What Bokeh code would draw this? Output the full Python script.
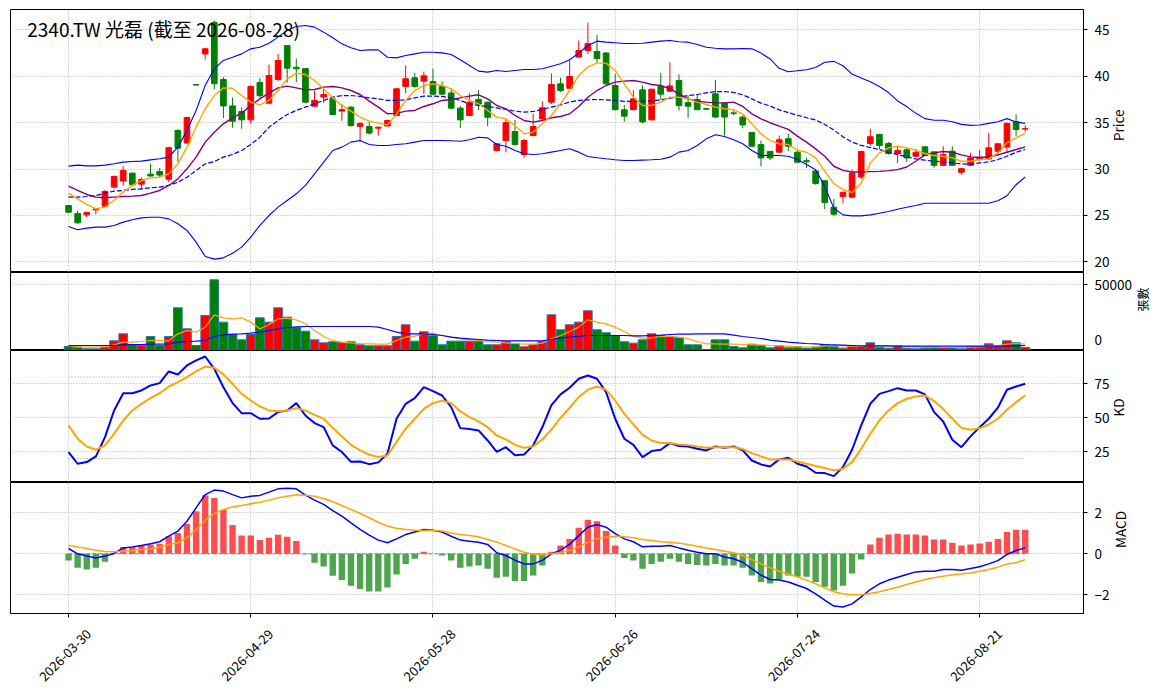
import math
from bokeh.plotting import figure
from bokeh.models import ColumnDataSource, Range1d, FixedTicker, Label, LinearAxis
from bokeh.layouts import column
from bokeh.embed import file_html
from bokeh.resources import INLINE

FONT = "Noto Sans CJK TC"

title = "2340.TW 光磊 (截至 2026-08-28)"
tick_pos = [0, 20, 40, 60, 80, 100]
tick_labels = ["2026-03-30", "2026-04-29", "2026-05-28", "2026-06-26", "2026-07-24", "2026-08-21"]

opens = [26.07, 25.2, 25.06, 25.6, 26.0, 28.05, 28.7, 29.55, 28.37, 29.45,
         29.73, 28.9, 34.15, 32.8, 39.1, 42.4, 45.8, 39.65, 36.8, 36.2,
         35.3, 39.33, 37.1, 39.65, 43.3, 40.97, 40.83, 36.77, 37.75, 37.56,
         36.24, 36.67, 34.6, 34.58, 34.4, 34.63, 35.77, 38.9, 39.83, 39.47,
         39.43, 38.9, 38.2, 36.56, 35.77, 37.5, 37.2, 32.0, 33.07, 34.04,
         31.57, 33.6, 35.4, 37.2, 39.18, 38.7, 42.06, 42.77, 42.66, 42.5,
         39.0, 36.38, 36.4, 38.53, 35.3, 38.9, 38.39, 39.54, 37.16, 37.5,
         36.5, 38.1, 37.1, 36.05, 35.6, 33.94, 32.64, 31.9, 31.82, 33.26,
         31.81, 30.9, 29.79, 28.74, 25.89, 27.04, 26.97, 29.14, 32.75, 33.73,
         32.75, 31.67, 32.07, 31.38, 32.39, 31.85, 30.4, 31.92, 29.65, 30.4,
         31.02, 31.09, 31.92, 32.36, 35.1, 34.3]
highs = [26.1, 25.5, 25.4, 25.8, 27.7, 29.3, 30.3, 29.65, 29.1, 30.55,
         30.1, 32.4, 34.3, 35.6, 39.15, 43.0, 46.0, 39.9, 37.7, 36.65,
         39.0, 39.8, 41.25, 42.4, 43.35, 41.9, 40.9, 38.45, 38.64, 37.7,
         37.0, 36.75, 35.05, 35.05, 34.6, 35.3, 38.7, 41.16, 40.37, 40.5,
         40.8, 39.43, 38.64, 36.8, 38.17, 38.5, 37.25, 32.8, 35.4, 35.3,
         33.25, 35.95, 37.3, 40.3, 39.83, 41.7, 43.85, 45.75, 44.46, 42.6,
         40.26, 36.9, 38.5, 39.0, 38.65, 40.37, 41.5, 40.2, 37.9, 38.0,
         36.55, 39.6, 37.2, 36.3, 35.8, 34.0, 33.07, 31.95, 33.6, 33.8,
         32.1, 31.2, 29.9, 28.8, 26.76, 27.55, 29.93, 31.95, 34.34, 33.8,
         32.9, 32.46, 32.3, 32.18, 32.46, 31.9, 32.46, 32.46, 30.1, 31.74,
         32.03, 33.9, 32.8, 35.0, 35.9, 34.7]
lows = [25.3, 24.1, 24.8, 25.1, 25.9, 27.9, 28.2, 28.2, 27.75, 29.2,
        29.1, 28.6, 30.75, 32.7, 39.0, 41.8, 38.6, 35.5, 34.45, 34.33,
        34.9, 37.7, 37.0, 39.5, 39.3, 39.36, 37.1, 36.7, 37.1, 35.8,
        35.2, 34.55, 32.9, 33.7, 33.6, 34.6, 35.7, 38.17, 38.75, 38.1,
        38.0, 38.0, 36.5, 34.4, 35.7, 36.35, 34.6, 31.9, 31.8, 32.6,
        31.2, 33.55, 35.3, 37.0, 38.3, 38.64, 42.0, 42.4, 41.47, 39.1,
        36.3, 35.1, 36.3, 34.93, 35.25, 37.47, 38.3, 36.3, 35.5, 36.35,
        36.4, 35.5, 33.6, 35.8, 34.4, 32.36, 30.27, 30.95, 31.8, 31.92,
        30.66, 30.12, 28.3, 25.67, 24.95, 26.32, 26.9, 28.9, 32.54, 32.1,
        31.56, 30.66, 30.77, 31.3, 31.4, 30.12, 30.35, 30.35, 29.4, 30.3,
        30.95, 31.0, 31.38, 31.81, 33.55, 33.98]
closes = [25.35, 24.2, 25.32, 25.7, 27.6, 29.2, 29.85, 28.3, 28.87, 29.25,
          29.35, 32.3, 32.25, 35.55, 39.05, 42.95, 39.2, 36.8, 35.15, 35.3,
          38.9, 37.9, 40.08, 41.7, 40.87, 40.8, 37.2, 37.38, 38.03, 35.88,
          36.4, 34.7, 34.9, 33.87, 34.5, 35.23, 38.64, 39.72, 38.9, 40.04,
          38.07, 38.07, 36.56, 35.3, 37.2, 37.0, 35.58, 32.72, 35.0, 32.64,
          33.07, 34.58, 36.6, 39.1, 38.46, 39.97, 42.77, 43.5, 41.9, 39.18,
          36.4, 35.7, 37.56, 35.08, 38.6, 38.07, 38.96, 36.84, 36.77, 36.4,
          36.45, 35.6, 35.6, 36.0, 34.75, 32.46, 31.2, 31.2, 33.15, 32.46,
          30.73, 30.8, 28.45, 26.4, 25.13, 27.5, 29.57, 31.89, 33.48, 32.54,
          31.67, 31.99, 31.2, 31.81, 31.45, 30.4, 31.56, 30.4, 30.04, 31.2,
          31.27, 32.28, 32.72, 34.92, 34.27, 34.35]

ma5 = [27.4, 26.79, 26.18, 25.71, 25.89, 26.61, 27.51, 28.23, 28.76, 29.05,
       29.12, 29.48, 30.56, 32.36, 34.51, 36.49, 37.92, 38.75, 38.71, 37.92,
       37.21, 36.92, 37.39, 38.46, 39.72, 40.33, 40.19, 39.54, 38.64, 37.67,
       36.85, 36.24, 35.59, 35.16, 34.94, 34.76, 35.9, 37.39, 38.46, 39.0,
       39.18, 39.0, 38.64, 37.92, 37.39, 37.03, 36.31, 35.59, 35.41, 34.69,
       33.79, 33.97, 34.87, 35.77, 37.03, 38.46, 40.08, 40.98, 41.41, 41.41,
       40.62, 39.18, 37.74, 36.85, 36.85, 37.21, 37.74, 37.74, 37.56, 37.21,
       36.95, 36.67, 36.49, 36.38, 35.95, 34.87, 33.79, 33.07, 32.72, 32.64,
       32.03, 31.81, 31.2, 29.75, 28.42, 27.77, 27.48, 28.49, 30.66, 31.74,
       32.28, 32.46, 32.28, 32.03, 31.67, 31.45, 31.38, 31.2, 30.84, 30.84,
       31.02, 31.09, 31.74, 32.83, 33.37, 33.84]
ma10 = [28.15, 27.69, 27.26, 26.97, 26.9, 26.97, 27.04, 27.08, 27.15, 27.4,
        27.69, 28.23, 28.94, 30.02, 31.28, 32.9, 33.97, 34.87, 35.52, 36.02,
        36.85, 37.56, 38.18, 38.75, 38.93, 38.75, 38.53, 38.57, 38.82, 38.89,
        38.75, 38.46, 38.03, 37.31, 36.67, 35.95, 36.0, 36.24, 36.31, 36.74,
        37.03, 37.39, 37.49, 37.67, 37.85, 38.0, 37.56, 36.85, 36.49, 35.77,
        35.23, 35.05, 35.23, 35.52, 35.66, 35.95, 36.74, 37.74, 38.46, 39.0,
        39.36, 39.47, 39.54, 39.36, 39.11, 39.0, 38.64, 38.1, 37.56, 37.31,
        37.21, 37.13, 37.13, 37.21, 36.74, 35.95, 35.4, 34.99, 34.63, 34.27,
        33.55, 32.9, 32.17, 31.38, 30.3, 29.86, 29.68, 29.68, 29.72, 29.75,
        29.83, 29.93, 30.22, 30.84, 31.52, 31.74, 31.89, 31.81, 31.52, 31.31,
        31.24, 31.31, 31.52, 31.81, 32.1, 32.39]
ma20 = [26.97, 26.97, 27.04, 27.15, 27.4, 27.62, 27.69, 27.8, 27.87, 27.97,
        28.05, 28.23, 28.58, 29.12, 29.84, 30.56, 30.81, 31.28, 31.57, 32.0,
        32.64, 33.43, 34.51, 35.23, 35.88, 36.31, 36.67, 37.03, 37.39, 37.74,
        37.92, 37.92, 37.82, 37.67, 37.56, 37.39, 37.39, 37.46, 37.67, 37.85,
        37.85, 37.82, 37.67, 37.39, 37.03, 36.85, 36.74, 36.59, 36.42, 36.24,
        36.13, 36.2, 36.42, 36.67, 36.92, 37.21, 37.39, 37.46, 37.49, 37.46,
        37.39, 37.28, 37.28, 37.31, 37.31, 37.46, 37.64, 37.74, 37.92, 38.03,
        38.21, 38.35, 38.35, 38.25, 38.0, 37.56, 37.1, 36.8, 36.37, 36.08,
        35.79, 35.53, 35.28, 34.81, 34.2, 33.47, 32.9, 32.54, 32.32, 32.1,
        31.81, 31.56, 31.31, 31.09, 30.95, 30.84, 30.77, 30.66, 30.55, 30.51,
        30.66, 30.77, 31.02, 31.38, 31.81, 32.1]
bb_upper = [30.31, 30.42, 30.34, 30.34, 30.42, 30.56, 30.74, 30.81, 30.85, 30.99,
            31.1, 31.28, 32.36, 34.15, 36.31, 39.0, 40.8, 41.7, 42.05, 42.41,
            42.95, 43.13, 43.56, 44.21, 44.93, 45.36, 45.47, 45.29, 44.75, 44.14,
            43.49, 43.06, 42.77, 42.84, 42.84, 42.05, 41.98, 42.23, 42.41, 42.59,
            42.59, 42.52, 42.34, 41.77, 41.16, 40.55, 40.44, 40.62, 40.51, 40.62,
            40.73, 40.73, 40.8, 41.08, 41.34, 41.77, 42.49, 43.31, 43.78, 43.67,
            43.6, 43.53, 43.53, 43.56, 43.67, 43.78, 43.85, 43.71, 43.67, 43.42,
            43.13, 43.02, 42.95, 42.95, 42.99, 42.95, 42.49, 41.86, 40.85, 40.48,
            40.59, 40.7, 40.95, 41.5, 41.6, 41.13, 40.23, 39.8, 39.4, 38.9,
            38.24, 37.34, 36.73, 36.0, 35.43, 35.25, 35.25, 35.1, 34.81, 34.7,
            34.74, 34.92, 35.1, 35.43, 35.07, 34.92]
bb_lower = [23.81, 23.45, 23.63, 23.74, 23.74, 23.92, 24.28, 24.53, 24.74, 24.81,
            24.81, 24.63, 24.1, 23.38, 22.12, 20.58, 20.29, 20.43, 20.93, 21.58,
            22.66, 23.92, 24.99, 25.89, 26.61, 27.33, 28.23, 29.48, 30.74, 32.0,
            32.36, 32.9, 33.07, 32.64, 32.54, 32.54, 32.64, 32.72, 32.9, 33.07,
            33.07, 33.07, 33.04, 33.0, 33.15, 33.43, 33.36, 32.64, 32.46, 32.0,
            31.64, 31.57, 31.64, 31.82, 32.0, 32.18, 31.82, 31.35, 31.21, 31.1,
            31.0, 30.92, 30.92, 30.96, 31.0, 31.06, 31.28, 31.82, 32.0, 32.54,
            33.25, 33.69, 33.51, 33.15, 32.72, 32.0, 31.46, 31.45, 31.45, 31.38,
            31.02, 30.48, 29.93, 28.13, 25.78, 25.06, 24.95, 24.95, 25.06, 25.24,
            25.42, 25.67, 25.89, 26.07, 26.32, 26.32, 26.32, 26.32, 26.32, 26.32,
            26.32, 26.32, 26.58, 27.12, 28.31, 29.14]

volume = [3050, 2540, 1270, 1270, 2540, 7360, 12690, 4570, 3810, 10660,
          3810, 10660, 32490, 16500, 3810, 26650, 53800, 21570, 12180, 8120,
          12180, 24870, 21570, 32490, 25380, 17260, 14720, 8120, 5840, 6600,
          5840, 6600, 4310, 3550, 3550, 3550, 10660, 19540, 7100, 14210,
          11170, 4310, 7100, 7100, 7100, 7100, 4310, 4310, 6600, 5080,
          2790, 4310, 6600, 27160, 15740, 19540, 21570, 30200, 15740, 13450,
          11420, 6600, 5580, 8120, 12690, 11420, 10660, 9640, 4310, 4310,
          500, 8120, 8120, 3050, 2030, 4820, 3810, 2030, 3550, 2030,
          2790, 1520, 2540, 4570, 2790, 1780, 3050, 3050, 5840, 2540,
          1780, 3550, 1780, 1270, 2030, 2540, 2280, 2030, 1270, 2790,
          3050, 5080, 3300, 7360, 5840, 2280]
vol_ma5 = [3807, 2792, 2538, 2538, 3046, 4315, 6345, 6345, 6853, 7614,
           7614, 7360, 12690, 15228, 13959, 17766, 27157, 24872, 24111, 24872,
           21573, 16497, 19543, 24111, 24619, 23350, 20304, 15228, 10660, 7614,
           6345, 5837, 5330, 5076, 4822, 4822, 7600, 10152, 10913, 12690,
           13198, 11421, 10152, 8883, 8375, 7614, 6853, 6345, 5837, 5330,
           4822, 4822, 5584, 8883, 11421, 14467, 17766, 23350, 21573, 20304,
           17766, 14467, 10913, 9391, 9644, 10660, 10913, 10152, 8883, 6853,
           5076, 5076, 4822, 4822, 4568, 4315, 4315, 3807, 3553, 3299,
           2792, 2538, 2792, 3553, 3807, 3553, 3299, 3046, 3807, 3807,
           3299, 3299, 3046, 2538, 2538, 2538, 2284, 2284, 2284, 2538,
           2792, 3553, 3807, 4822, 5330, 4822]
vol_ma20 = [3807, 3807, 3807, 3807, 3807, 3807, 4315, 4568, 4568, 4822,
            4822, 5076, 6345, 6853, 7106, 7614, 10660, 11929, 12436, 12690,
            13198, 13959, 15228, 16497, 17512, 18020, 18274, 18274, 18274, 18274,
            18274, 18274, 18274, 18274, 17766, 15989, 14000, 12690, 12690, 12690,
            12182, 11421, 10152, 9391, 8883, 8375, 7868, 7614, 7360, 7360,
            7360, 7360, 7360, 8375, 9644, 10152, 10660, 11421, 11421, 11421,
            11421, 11421, 11167, 11167, 11421, 11675, 12182, 12436, 12436, 12690,
            12690, 12690, 12690, 11675, 10660, 9898, 9137, 7868, 7106, 6345,
            5837, 5330, 5076, 4568, 4315, 4061, 3807, 3553, 3553, 3553,
            3553, 3299, 3299, 3299, 3299, 3299, 3299, 3299, 3299, 3299,
            3299, 3299, 3299, 3553, 3553, 3807]

k_line = [24.8, 16.2, 17.4, 21.6, 35.8, 55.4, 68.1, 68.1, 70.1, 73.8,
          75.5, 84.1, 81.9, 88.5, 92.2, 95.1, 86.0, 72.5, 60.8, 53.4,
          53.4, 49.3, 49.5, 54.2, 55.4, 60.8, 51.7, 46.1, 43.1, 29.7,
          24.8, 17.6, 17.9, 15.9, 17.2, 23.5, 49.3, 60.3, 64.5, 72.5,
          69.6, 66.4, 57.8, 42.4, 41.7, 40.7, 33.3, 25.0, 28.4, 22.5,
          23.0, 29.7, 43.0, 59.3, 67.2, 72.1, 78.7, 81.1, 78.7, 68.9,
          49.3, 34.6, 30.1, 21.1, 25.5, 26.5, 31.4, 29.2, 28.9, 27.2,
          26.0, 28.9, 27.9, 28.9, 26.0, 18.6, 15.7, 14.2, 19.4, 20.6,
          16.2, 14.2, 9.6, 9.3, 7.1, 13.7, 26.5, 44.4, 60.3, 67.6,
          69.6, 71.8, 70.1, 70.1, 67.2, 54.2, 47.3, 33.8, 28.4, 36.3,
          43.1, 49.3, 57.4, 70.6, 73.0, 75.0]
d_line = [44.4, 34.6, 28.9, 26.5, 29.7, 38.2, 48.0, 55.4, 60.3, 64.5,
          68.1, 73.0, 76.2, 79.9, 84.1, 87.7, 86.8, 81.9, 75.0, 67.6,
          62.7, 58.3, 55.4, 54.9, 55.4, 57.1, 55.4, 52.2, 49.3, 42.6,
          36.3, 30.1, 26.0, 22.8, 21.1, 22.3, 32.1, 41.9, 49.3, 56.6,
          60.8, 62.7, 60.8, 54.9, 50.5, 47.3, 43.1, 37.0, 34.1, 30.1,
          27.9, 28.9, 34.0, 41.3, 49.9, 57.4, 65.2, 70.6, 73.0, 70.6,
          62.7, 52.9, 45.1, 37.5, 33.3, 31.4, 31.4, 30.4, 29.9, 28.9,
          27.9, 28.4, 28.4, 28.4, 27.0, 24.0, 21.6, 19.4, 19.4, 19.4,
          17.9, 16.2, 14.5, 13.0, 11.3, 12.5, 17.4, 27.2, 38.2, 48.0,
          55.4, 60.8, 64.0, 65.7, 66.4, 62.3, 56.6, 49.3, 42.6, 41.2,
          42.4, 45.1, 49.3, 55.9, 61.5, 66.4]
kd_levels = [20, 80]

dif = [0.26, 0.0, -0.11, -0.2, -0.11, 0.02, 0.29, 0.34, 0.41, 0.49,
       0.59, 0.86, 1.11, 1.59, 2.24, 2.89, 3.11, 3.06, 2.89, 2.73,
       2.81, 2.85, 3.01, 3.17, 3.2, 3.17, 2.86, 2.62, 2.41, 2.11,
       1.84, 1.51, 1.19, 0.91, 0.67, 0.54, 0.73, 0.94, 1.07, 1.19,
       1.15, 1.06, 0.86, 0.67, 0.62, 0.57, 0.46, 0.05, -0.08, -0.31,
       -0.49, -0.49, -0.32, 0.0, 0.18, 0.46, 0.89, 1.3, 1.43, 1.3,
       0.99, 0.73, 0.59, 0.34, 0.37, 0.37, 0.41, 0.29, 0.18, 0.08,
       0.0, 0.0, -0.15, -0.24, -0.41, -0.73, -1.04, -1.25, -1.28, -1.37,
       -1.53, -1.69, -1.95, -2.26, -2.55, -2.59, -2.44, -2.1, -1.74, -1.46,
       -1.28, -1.14, -1.01, -0.88, -0.85, -0.85, -0.76, -0.76, -0.8, -0.72,
       -0.63, -0.49, -0.33, -0.03, 0.16, 0.29]
dea = [0.42, 0.34, 0.26, 0.18, 0.11, 0.1, 0.13, 0.16, 0.21, 0.24,
       0.33, 0.46, 0.54, 0.78, 1.19, 1.64, 1.97, 2.16, 2.29, 2.36,
       2.44, 2.52, 2.62, 2.73, 2.81, 2.88, 2.86, 2.81, 2.7, 2.54,
       2.36, 2.16, 1.97, 1.76, 1.54, 1.35, 1.25, 1.19, 1.15, 1.14,
       1.14, 1.11, 1.02, 0.94, 0.89, 0.83, 0.7, 0.57, 0.41, 0.24,
       0.08, -0.02, -0.03, 0.0, 0.05, 0.16, 0.34, 0.57, 0.73, 0.81,
       0.86, 0.83, 0.78, 0.7, 0.65, 0.59, 0.57, 0.52, 0.46, 0.37,
       0.28, 0.21, 0.13, 0.05, -0.08, -0.28, -0.49, -0.68, -0.85, -0.98,
       -1.12, -1.28, -1.46, -1.66, -1.85, -1.95, -2.0, -2.0, -1.93, -1.85,
       -1.74, -1.63, -1.5, -1.37, -1.25, -1.17, -1.09, -1.02, -0.98, -0.93,
       -0.85, -0.76, -0.65, -0.49, -0.44, -0.29]
macd_hist = [-0.33, -0.68, -0.76, -0.68, -0.39, 0.02, 0.33, 0.34, 0.41, 0.46,
             0.49, 0.86, 1.02, 1.46, 2.08, 2.86, 2.73, 2.15, 1.41, 0.89,
             0.89, 0.68, 0.78, 0.93, 0.83, 0.63, -0.02, -0.44, -0.62, -1.07,
             -1.27, -1.56, -1.71, -1.84, -1.84, -1.64, -1.01, -0.49, -0.24, 0.1,
             0.01, -0.08, -0.33, -0.68, -0.62, -0.57, -0.73, -1.17, -1.12, -1.32,
             -1.32, -1.06, -0.57, 0.1, 0.41, 0.73, 1.27, 1.66, 1.59, 1.11,
             0.41, -0.2, -0.33, -0.73, -0.49, -0.39, -0.24, -0.39, -0.49, -0.54,
             -0.57, -0.49, -0.57, -0.57, -0.68, -1.06, -1.37, -1.45, -1.25, -1.06,
             -1.12, -1.12, -1.37, -1.61, -1.79, -1.56, -0.96, -0.28, 0.46, 0.78,
             0.94, 0.98, 0.94, 0.94, 0.89, 0.7, 0.7, 0.54, 0.41, 0.46,
             0.5, 0.59, 0.73, 1.07, 1.17, 1.17]

n = len(closes)
idx = list(range(n))
candle_col = ["red" if c >= o else "green" for o, c in zip(opens, closes)]
hist_col = ["#ff4d4d" if h >= 0 else "#4da64d" for h in macd_hist]

src = ColumnDataSource(dict(
    x=idx, l=lows, h=highs,
    top=[max(o, c) for o, c in zip(opens, closes)],
    bot=[min(o, c) for o, c in zip(opens, closes)],
    col=candle_col, vol=volume, hist=macd_hist, hcol=hist_col,
))

x_range = Range1d(-6.37, 111.4)
GRID = "#b0b0b0"


def style_ticks(ax):
    ax.major_tick_out = 4
    ax.major_tick_in = 0
    ax.minor_tick_out = 0
    ax.minor_tick_in = 0
    ax.axis_line_color = "black"
    ax.major_tick_line_color = "black"


def panel(height, y_range, yticks, label, bottom=0, top=0, label_size="13.5px", label_standoff=7):
    p = figure(width=1163, height=height, x_range=x_range, y_range=y_range,
               x_axis_location="below" if bottom else None, y_axis_location="right",
               toolbar_location=None, output_backend="svg",
               min_border_left=10, min_border_right=80,
               min_border_top=top, min_border_bottom=bottom)
    p.background_fill_color = "white"
    p.border_fill_color = "white"
    p.outline_line_color = "black"
    p.outline_line_width = 1
    ax = p.yaxis[0]
    ax.ticker = FixedTicker(ticks=yticks)
    ax.axis_label = label
    ax.axis_label_text_font = FONT
    ax.axis_label_text_font_style = "normal"
    ax.axis_label_text_font_size = label_size
    ax.axis_label_text_color = "black"
    ax.axis_label_standoff = label_standoff
    ax.axis_label_orientation = math.pi / 2
    ax.major_label_text_font = FONT
    ax.major_label_text_font_size = "13.5px"
    ax.major_label_text_color = "black"
    ax.major_label_standoff = 7
    style_ticks(ax)
    p.ygrid.ticker = FixedTicker(ticks=yticks)
    p.xgrid.ticker = FixedTicker(ticks=tick_pos)
    for g in (p.xgrid, p.ygrid):
        g.grid_line_color = GRID
        g.grid_line_dash = "1 2"
        g.grid_line_width = 1
    return p


# price panel
p1 = panel(272, Range1d(18.85, 47.19), [20, 25, 30, 35, 40, 45], "Price", top=9, label_standoff=6)
p1.segment(x0="x", y0="l", x1="x", y1="h", color="col", line_width=1, source=src)
p1.vbar(x="x", top="top", bottom="bot", width=0.62, fill_color="col", line_color="col",
        line_width=1, source=src)
p1.line(idx, bb_upper, color="blue", line_width=1.1)
p1.line(idx, bb_lower, color="blue", line_width=1.1)
p1.line(idx, ma20, color="blue", line_width=1.2, line_dash="5 2")
p1.line(idx, ma10, color="purple", line_width=1.4)
p1.line(idx, ma5, color="orange", line_width=1.4)
p1.add_layout(Label(x=-4.53, y=45.1, text=title, text_font=FONT, text_font_size="19px",
                    text_color="black", text_baseline="alphabetic", text_align="left"))

# volume panel: the "0" label sits a little above the bottom edge so it is not clipped
vol_label_ticks = [8000, 50000]
p2 = panel(78, Range1d(0, 59360), vol_label_ticks, "張數", label_size="12px", label_standoff=8)
vax = p2.yaxis[0]
vax.ticker = FixedTicker(ticks=vol_label_ticks, minor_ticks=[0, 50000])
vax.major_label_overrides = {8000: "0"}
vax.major_tick_line_color = None
vax.minor_tick_out = 4
vax.minor_tick_line_color = "black"
p2.ygrid.ticker = FixedTicker(ticks=[0, 50000])
p2.vbar(x="x", top="vol", bottom=0, width=0.95, fill_color="col", line_color="#1f77b4",
        line_width=1, source=src)
p2.line(idx, vol_ma5, color="orange", line_width=1.2)
p2.line(idx, vol_ma20, color="blue", line_width=1.2)

# KD panel
p3 = panel(132, Range1d(2.4, 99.5), [25, 50, 75], "KD", label_standoff=6)
for lv in kd_levels:
    p3.line([idx[0], idx[-1]], [lv, lv], color="gray", line_dash="1 2", line_width=1, alpha=0.8)
p3.line(idx, k_line, color="blue", line_width=2)
p3.line(idx, d_line, color="orange", line_width=2)

# MACD panel
p4 = panel(211, Range1d(-2.91, 3.48), [-2, 0, 2], "MACD", bottom=80, label_standoff=8)
xa = p4.xaxis[0]
xa.ticker = FixedTicker(ticks=tick_pos)
xa.major_label_overrides = {t: "" for t in tick_pos}
xa.major_label_text_font_size = "1px"
xa.major_label_standoff = 0
style_ticks(xa)

# date labels: a second axis whose (invisible) ticks are shifted so the
# rotated labels end up centred under the real ticks
shift = 2.2
lab_pos = [t + shift for t in tick_pos]
xa2 = LinearAxis(ticker=FixedTicker(ticks=lab_pos),
                 major_label_overrides={lp: s for lp, s in zip(lab_pos, tick_labels)},
                 major_label_orientation=math.pi / 4,
                 major_label_text_font=FONT, major_label_text_font_size="13px",
                 major_label_text_color="black", major_label_standoff=14,
                 axis_line_color=None, major_tick_line_color=None, minor_tick_line_color=None,
                 major_tick_out=0, major_tick_in=0, minor_tick_out=0, minor_tick_in=0)
p4.add_layout(xa2, "below")

p4.line([idx[0], idx[-1]], [0, 0], color="gray", line_dash="4 2", line_width=1)
p4.vbar(x="x", top="hist", bottom=0, width=0.7, fill_color="hcol", line_color=None, source=src)
p4.line(idx, dif, color="blue", line_width=1.5)
p4.line(idx, dea, color="orange", line_width=1.5)

layout = column(p1, p2, p3, p4, spacing=0)

open("out.html", "w").write(file_html(layout, INLINE))
